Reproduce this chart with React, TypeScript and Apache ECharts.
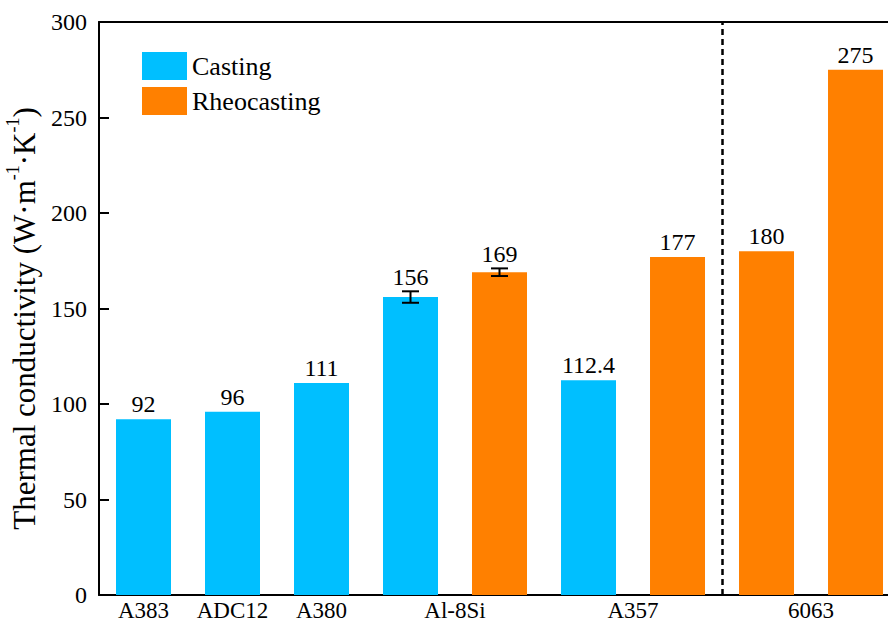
import React, { useEffect, useRef } from "react";
import * as echarts from "echarts";

// Slot order along the x axis (one bar per slot)
const slotAlloys = ["A383", "ADC12", "A380", "Al-8Si", "Al-8Si", "A357", "A357", "6063", "6063"];
const slotProcess = ["Casting", "Casting", "Casting", "Casting", "Rheocasting", "Casting", "Rheocasting", "Rheocasting", "Rheocasting"];
const slotValues = [92, 96, 111, 156, 169, 112.4, 177, 180, 275];
const slotErrors = [0, 0, 0, 3, 2, 0, 0, 0, 0];
const seriesNames = ["Casting", "Rheocasting"];
const seriesColors = ["#00BFFF", "#FF8000"];
const separatorAfterSlot = 7; // dashed divider before the 6063 group
const yTicks = { min: 0, max: 300, interval: 50 };

const FONT = "Liberation Serif";

export default function App() {
  const ref = useRef<HTMLDivElement>(null);

  useEffect(() => {
    if (!ref.current) return;
    const chart = echarts.init(ref.current, null, { renderer: "svg" });

    // group label positions: mean of slot centers of each alloy
    const groupNames: string[] = [];
    const groupPos: number[] = [];
    slotAlloys.forEach((a, i) => {
      const idx = groupNames.indexOf(a);
      if (idx < 0) {
        groupNames.push(a);
        groupPos.push(i + 0.5);
      } else {
        const count = slotAlloys.slice(0, i).filter((s) => s === a).length;
        groupPos[idx] = (groupPos[idx] * count + (i + 0.5)) / (count + 1);
      }
    });

    const barSeries = seriesNames.map((name, si) => ({
      name,
      type: "bar",
      barWidth: 55,
      barGap: "-100%",
      itemStyle: { color: seriesColors[si] },
      label: {
        show: true,
        position: "top",
        distance: 3,
        color: "#000",
        fontSize: 24,
        fontFamily: FONT,
        formatter: (p: any) => String(p.value[1]),
      },
      data: slotValues
        .map((v, i) => ({ v, i }))
        .filter(({ i }) => slotProcess[i] === name)
        .map(({ v, i }) => ({
          value: [i + 0.5, v],
          label: slotErrors[i] > 0 ? { distance: 2 + slotErrors[i] * 2 } : undefined,
        })),
      markLine:
        si === 0
          ? {
              silent: true,
              symbol: "none",
              label: { show: false },
              lineStyle: { color: "#000", type: [6, 4], width: 2.5 },
              data: [{ xAxis: separatorAfterSlot }],
            }
          : undefined,
    }));

    const errData = slotValues
      .map((v, i) => [i + 0.5, v, slotErrors[i]])
      .filter((d) => d[2] > 0);

    const option: any = {
      animation: false,
      textStyle: { fontFamily: FONT },
      grid: { left: 99, right: 0, top: 22, bottom: 30, containLabel: false, outerBoundsMode: "none" },
      legend: {
        data: seriesNames,
        orient: "vertical",
        left: 137,
        top: 47,
        itemWidth: 45,
        itemHeight: 28,
        itemGap: 7,
        icon: "rect",
        textStyle: { fontSize: 26, fontFamily: FONT, color: "#000" },
      },
      xAxis: [
        {
          type: "value",
          min: 0,
          max: 8.865,
          position: "bottom",
          splitLine: { show: false },
          axisTick: { show: false },
          axisLine: { show: true, lineStyle: { color: "#000", width: 2 } },
          axisLabel: {
            customValues: groupPos,
            formatter: (v: number) => {
              const k = groupPos.findIndex((p) => Math.abs(p - v) < 1e-6);
              return k >= 0 ? groupNames[k] : "";
            },
            fontSize: 23,
            fontFamily: FONT,
            color: "#000",
            margin: 4,
          },
        },
        {
          type: "value",
          min: 0,
          max: 8.865,
          position: "top",
          splitLine: { show: false },
          axisTick: { show: false },
          axisLabel: { show: false },
          axisLine: { show: true, lineStyle: { color: "#000", width: 2 } },
        },
      ],
      yAxis: {
        type: "value",
        min: yTicks.min,
        max: yTicks.max,
        interval: yTicks.interval,
        splitLine: { show: false },
        axisLine: { show: true, lineStyle: { color: "#000", width: 2 } },
        axisTick: { show: true, inside: true, length: 10, lineStyle: { color: "#000", width: 2 } },
        axisLabel: { fontSize: 24, fontFamily: FONT, color: "#000", margin: 12 },
        name: "{a|Thermal conductivity (W·m}{s|-1}{a|·K}{s|-1}{a|)}",
        nameLocation: "middle",
        nameGap: 52,
        nameTextStyle: {
          fontSize: 31,
          fontFamily: FONT,
          padding: [0, 20, 0, 0],
          rich: {
            a: { fontSize: 31, fontFamily: FONT, color: "#000", verticalAlign: "bottom", lineHeight: 36 },
            s: { fontSize: 18, fontFamily: FONT, color: "#000", verticalAlign: "top", lineHeight: 36 },
          },
        },
      },
      series: [
        ...barSeries,
        {
          type: "custom",
          name: "err",
          silent: true,
          data: errData,
          z: 10,
          renderItem: (params: any, api: any) => {
            const x = api.value(0);
            const y = api.value(1);
            const e = api.value(2);
            const top = api.coord([x, y + e]);
            const bot = api.coord([x, y - e]);
            const hw = 8.5;
            const style = { stroke: "#000", lineWidth: 2 };
            return {
              type: "group",
              children: [
                { type: "line", shape: { x1: top[0], y1: top[1], x2: bot[0], y2: bot[1] }, style },
                { type: "line", shape: { x1: top[0] - hw, y1: top[1], x2: top[0] + hw, y2: top[1] }, style },
                { type: "line", shape: { x1: bot[0] - hw, y1: bot[1], x2: bot[0] + hw, y2: bot[1] }, style },
              ],
            };
          },
        },
      ],
    };

    chart.setOption(option);
    return () => chart.dispose();
  }, []);

  return (
    <div
      ref={ref}
      style={{ position: "fixed", left: 0, top: 0, width: 888, height: 625, background: "#fff" }}
    />
  );
}
